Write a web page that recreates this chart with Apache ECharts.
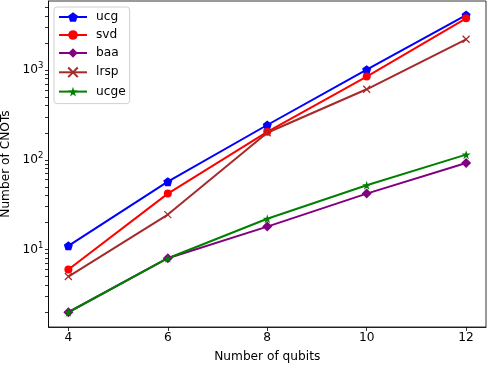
<!DOCTYPE html>
<html>
<head>
<meta charset="utf-8">
<script src="https://cdn.jsdelivr.net/npm/echarts@6/dist/echarts.min.js"></script>
<style>
  html, body { margin: 0; padding: 0; background: #fff; }
  #main { width: 488px; height: 366px; }
</style>
</head>
<body>
<div id="main"></div>
<script>
// data
const qubits = [4, 6, 8, 10, 12];
const ucg = [11, 57, 244, 1010, 4096];
const svd = [6, 42, 205, 845, 3770];
const baa = [2, 8, 18, 42, 92];
const lrsp = [5, 24.5, 200, 610, 2200];
const ucge = [2, 8, 22, 52, 114];

const xTicks = [4, 6, 8, 10, 12];
const yMajor = [10, 100, 1000];
const yMinor = [2, 3, 4, 5, 6, 7, 8, 9, 20, 30, 40, 50, 60, 70, 80, 90,
  200, 300, 400, 500, 600, 700, 800, 900, 2000, 3000, 4000, 5000];

const font = 'DejaVu Sans';
const fs = 12.2;

const pentagon = 'path://M0,-1L0.951,-0.309L0.588,0.809L-0.588,0.809L-0.951,-0.309Z';
const thinDiamond = 'path://M0,-1L0.6,0L0,1L-0.6,0Z';
const cross = 'path://M-1,-1L1,1M1,-1L-1,1';
const star = 'path://M0,-1L0.2245,-0.309L0.951,-0.309L0.3633,0.118L0.5878,0.809L0,0.382L-0.5878,0.809L-0.3633,0.118L-0.951,-0.309L-0.2245,-0.309Z';

function pts(ys) {
  return qubits.map((x, i) => [x, ys[i]]);
}

function mkSeries(name, ys, color, symbol, size, extra) {
  return Object.assign({
    name: name,
    type: 'line',
    data: pts(ys),
    symbol: symbol,
    symbolSize: size,
    showAllSymbol: true,
    lineStyle: { color: color, width: 2 },
    itemStyle: { color: color },
    emphasis: { disabled: true },
    animation: false
  }, extra || {});
}

const chart = echarts.init(document.getElementById('main'));

chart.setOption({
  backgroundColor: '#fff',
  textStyle: { fontFamily: font },
  grid: {
    left: 48.5,
    right: 2,
    top: 1,
    bottom: 39,
    outerBoundsMode: 'none',
    containLabel: false,
    show: true,
    borderColor: '#000',
    borderWidth: 0.8,
    backgroundColor: 'transparent'
  },
  legend: {
    orient: 'vertical',
    left: 54,
    top: 7,
    itemWidth: 28,
    itemHeight: 12,
    itemGap: 6,
    padding: [4, 4, 6, 4],
    borderColor: '#d0d0d0',
    borderWidth: 1,
    borderRadius: 3,
    backgroundColor: 'rgba(255,255,255,0.8)',
    textStyle: { fontFamily: font, fontSize: fs, lineHeight: 12, color: '#000', padding: [0, 0, 0, 4] },
    data: ['ucg', 'svd', 'baa', 'lrsp', 'ucge']
  },
  xAxis: {
    type: 'value',
    min: 3.6,
    max: 12.4,
    name: 'Number of qubits',
    nameLocation: 'middle',
    nameGap: 24,
    nameTextStyle: { fontFamily: font, fontSize: fs, color: '#000' },
    axisLine: { lineStyle: { color: '#000', width: 0.8 } },
    axisTick: { length: 4, lineStyle: { color: '#000', width: 0.8 }, customValues: xTicks },
    axisLabel: { fontFamily: font, fontSize: fs, color: '#000', margin: 5, customValues: xTicks },
    splitLine: { show: false }
  },
  yAxis: {
    type: 'log',
    logBase: 10,
    min: 1.37,
    max: 5875,
    position: 'left',
    name: 'Number of CNOTs',
    nameLocation: 'middle',
    nameGap: 35,
    nameTextStyle: { fontFamily: font, fontSize: fs, color: '#000' },
    splitLine: { show: false },
    minorTick: { show: false },
    axisLine: { show: true, lineStyle: { color: '#000', width: 0.8 } },
    axisTick: { show: true, length: 3.5, lineStyle: { color: '#000', width: 0.8 }, customValues: yMajor.concat(yMinor) },
    axisLabel: {
      fontFamily: font, fontSize: fs, color: '#000', margin: 5,
      customValues: yMajor,
      formatter: function (v) {
        return '10{sup|' + Math.round(Math.log10(v)) + '}';
      },
      rich: {
        sup: { fontSize: 8.5, verticalAlign: 'bottom', padding: [0, 0, 8, 0], fontFamily: font, color: '#000' }
      }
    }
  },
  series: [
    mkSeries('ucg', ucg, '#0000ff', pentagon, 9),
    mkSeries('svd', svd, '#ff0000', 'circle', 8),
    mkSeries('baa', baa, '#800080', thinDiamond, 10),
    mkSeries('lrsp', lrsp, '#a52a2a', cross, 7, {
      itemStyle: { color: 'none', borderColor: '#a52a2a', borderWidth: 1.2 }
    }),
    mkSeries('ucge', ucge, '#008000', star, 9)
  ]
});
</script>
</body>
</html>
